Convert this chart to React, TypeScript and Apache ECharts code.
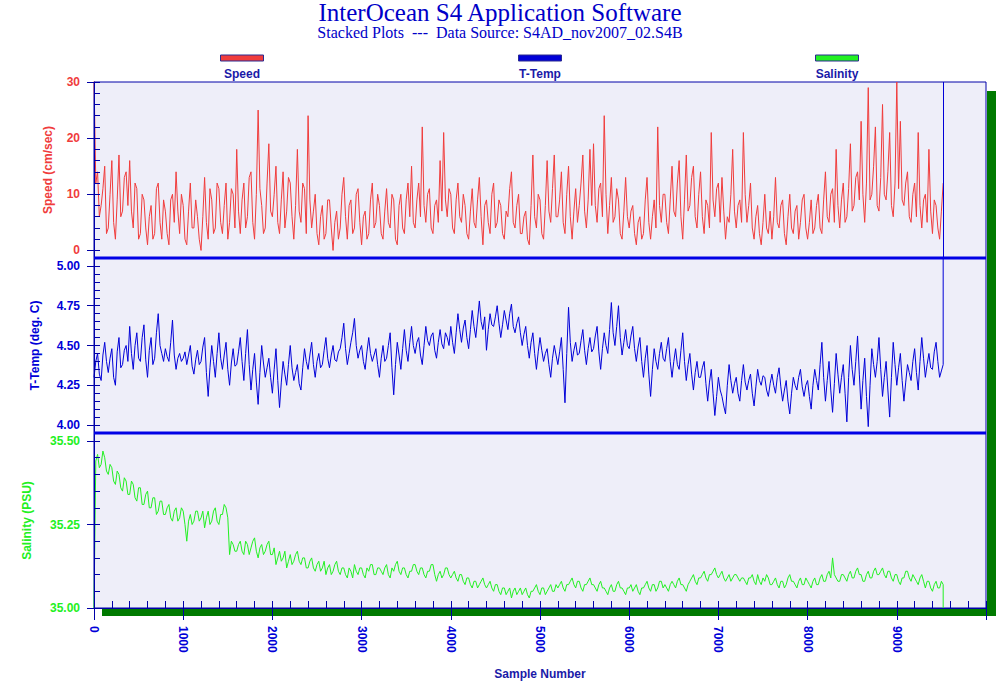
import React, { useEffect, useRef } from "react";
import * as echarts from "echarts";

// ---- data (one value every 20 samples) ----
const sampleStep = 20;

const speed = [
  31, 12, 14, 6, 8, 11, 15, 3, 4, 10, 16, 5, 2, 9, 17, 6, 7, 13, 14, 8,
  16, 7, 4, 12, 11, 2, 3, 10, 9, 4, 1, 6, 8, 2, 3, 11, 12, 5, 2, 9,
  7, 3, 1, 9, 10, 5, 14, 7, 3, 10, 8, 2, 1, 7, 12, 4, 4, 9, 6, 2,
  0, 6, 13, 5, 2, 11, 9, 3, 4, 12, 11, 5, 3, 8, 12, 2, 5, 11, 10, 4,
  18, 7, 3, 9, 12, 4, 6, 13, 14, 5, 2, 10, 25, 11, 8, 3, 4, 12, 19, 7,
  6, 10, 15, 5, 3, 9, 14, 4, 7, 13, 12, 6, 2, 8, 18, 7, 5, 12, 11, 3,
  24, 9, 4, 7, 10, 3, 1, 6, 8, 2, 3, 9, 9, 4, 0, 5, 7, 2, 4, 10,
  13, 6, 2, 8, 9, 3, 4, 10, 11, 5, 1, 6, 7, 2, 3, 9, 12, 4, 5, 10,
  8, 3, 2, 7, 11, 5, 4, 10, 9, 2, 1, 8, 10, 4, 3, 9, 12, 6, 15, 5,
  4, 9, 12, 6, 22, 8, 5, 10, 11, 4, 3, 8, 9, 5, 16, 7, 21, 9, 6, 11,
  10, 4, 3, 9, 12, 6, 5, 10, 8, 3, 2, 7, 11, 5, 4, 9, 13, 6, 1, 8,
  9, 5, 3, 10, 12, 4, 5, 9, 8, 3, 2, 7, 6, 11, 14, 5, 4, 8, 10, 3,
  3, 6, 7, 2, 1, 8, 17, 6, 4, 10, 9, 3, 2, 8, 16, 7, 5, 11, 17, 6,
  6, 9, 14, 5, 3, 10, 15, 6, 2, 7, 11, 5, 8, 12, 17, 7, 4, 9, 18, 8,
  19, 8, 5, 11, 12, 6, 24, 10, 3, 8, 13, 5, 6, 11, 9, 3, 2, 7, 13, 6,
  4, 7, 8, 3, 1, 5, 6, 2, 3, 9, 13, 5, 2, 6, 9, 4, 22, 8, 5, 10,
  10, 5, 3, 9, 15, 7, 6, 12, 16, 6, 2, 9, 17, 7, 8, 13, 15, 6, 4, 10,
  14, 6, 3, 9, 8, 4, 21, 9, 6, 11, 12, 5, 13, 7, 2, 6, 5, 10, 18, 7,
  4, 8, 9, 5, 21, 10, 5, 8, 12, 4, 2, 6, 8, 3, 1, 5, 10, 4, 3, 7,
  2, 6, 13, 5, 4, 8, 9, 3, 1, 6, 10, 4, 3, 7, 8, 2, 5, 9, 10, 4,
  2, 5, 9, 3, 4, 8, 10, 4, 3, 9, 14, 6, 5, 10, 11, 5, 18, 8, 4, 9,
  12, 5, 6, 11, 19, 7, 8, 13, 14, 9, 23, 10, 5, 12, 29, 9, 10, 15, 22, 8,
  7, 13, 26, 10, 9, 14, 21, 8, 6, 12, 30, 11, 23, 9, 8, 12, 14, 6, 5, 10,
  12, 6, 21, 8, 4, 9, 10, 5, 18, 7, 3, 9, 8, 4, 2, 7, 12,
];

const temp = [
  4.30, 4.40, 4.45, 4.32, 4.28, 4.44, 4.52, 4.40, 4.33, 4.42, 4.48, 4.30, 4.25, 4.46, 4.55, 4.36, 4.38, 4.47, 4.50, 4.40,
  4.62, 4.45, 4.35, 4.50, 4.58, 4.42, 4.40, 4.55, 4.63, 4.41, 4.30, 4.47, 4.55, 4.38, 4.42, 4.58, 4.70, 4.50, 4.45, 4.40,
  4.48, 4.43, 4.40, 4.52, 4.66, 4.44, 4.35, 4.42, 4.45, 4.40, 4.42, 4.46, 4.38, 4.44, 4.50, 4.37, 4.32, 4.41, 4.47, 4.38,
  4.40, 4.49, 4.55, 4.33, 4.18, 4.36, 4.50, 4.40, 4.30, 4.45, 4.58, 4.42, 4.35, 4.44, 4.52, 4.35, 4.25, 4.39, 4.48, 4.37,
  4.38, 4.46, 4.55, 4.40, 4.28, 4.45, 4.60, 4.38, 4.22, 4.35, 4.45, 4.27, 4.13, 4.33, 4.50, 4.39, 4.30, 4.36, 4.42, 4.30,
  4.20, 4.35, 4.48, 4.28, 4.11, 4.27, 4.40, 4.32, 4.25, 4.38, 4.50, 4.36, 4.28, 4.33, 4.38, 4.26, 4.22, 4.36, 4.48, 4.40,
  4.35, 4.44, 4.52, 4.38, 4.30, 4.40, 4.45, 4.36, 4.38, 4.47, 4.55, 4.42, 4.36, 4.44, 4.50, 4.41, 4.40, 4.46, 4.48, 4.55,
  4.64, 4.48, 4.38, 4.45, 4.52, 4.58, 4.67, 4.50, 4.42, 4.47, 4.50, 4.40, 4.35, 4.46, 4.55, 4.45, 4.40, 4.44, 4.48, 4.38,
  4.30, 4.42, 4.50, 4.40, 4.42, 4.50, 4.58, 4.36, 4.19, 4.38, 4.52, 4.44, 4.35, 4.48, 4.60, 4.47, 4.40, 4.52, 4.62, 4.50,
  4.45, 4.52, 4.55, 4.44, 4.38, 4.50, 4.62, 4.53, 4.50, 4.56, 4.58, 4.47, 4.42, 4.52, 4.60, 4.51, 4.48, 4.58, 4.55, 4.50,
  4.62, 4.52, 4.45, 4.58, 4.70, 4.60, 4.52, 4.61, 4.66, 4.55, 4.48, 4.60, 4.72, 4.62, 4.55, 4.66, 4.78, 4.65, 4.60, 4.68,
  4.47, 4.60, 4.70, 4.63, 4.62, 4.68, 4.75, 4.64, 4.55, 4.63, 4.72, 4.66, 4.60, 4.70, 4.76, 4.62, 4.58, 4.64, 4.68, 4.58,
  4.50, 4.57, 4.62, 4.50, 4.42, 4.52, 4.58, 4.45, 4.35, 4.46, 4.55, 4.47, 4.40, 4.45, 4.48, 4.38, 4.30, 4.42, 4.50, 4.44,
  4.38, 4.46, 4.55, 4.35, 4.14, 4.45, 4.74, 4.52, 4.40, 4.47, 4.52, 4.44, 4.45, 4.53, 4.60, 4.47, 4.38, 4.48, 4.55, 4.46,
  4.48, 4.56, 4.62, 4.46, 4.35, 4.48, 4.58, 4.50, 4.45, 4.60, 4.77, 4.58, 4.50, 4.62, 4.75, 4.55, 4.44, 4.52, 4.60, 4.50,
  4.48, 4.56, 4.62, 4.48, 4.40, 4.49, 4.55, 4.40, 4.30, 4.42, 4.50, 4.32, 4.18, 4.35, 4.48, 4.40, 4.35, 4.45, 4.52, 4.42,
  4.40, 4.48, 4.55, 4.40, 4.30, 4.40, 4.48, 4.38, 4.35, 4.47, 4.58, 4.40, 4.28, 4.38, 4.45, 4.32, 4.22, 4.33, 4.40, 4.30,
  4.30, 4.36, 4.40, 4.26, 4.15, 4.27, 4.35, 4.20, 4.06, 4.18, 4.30, 4.22, 4.18, 4.12, 4.07, 4.25, 4.38, 4.28, 4.20, 4.26,
  4.30, 4.20, 4.15, 4.28, 4.38, 4.27, 4.22, 4.28, 4.32, 4.20, 4.12, 4.24, 4.35, 4.28, 4.25, 4.31, 4.30, 4.22, 4.18, 4.26,
  4.32, 4.25, 4.20, 4.30, 4.36, 4.24, 4.15, 4.22, 4.28, 4.15, 4.07, 4.20, 4.30, 4.25, 4.22, 4.30, 4.35, 4.24, 4.18, 4.25,
  4.28, 4.18, 4.10, 4.25, 4.35, 4.28, 4.22, 4.38, 4.52, 4.30, 4.15, 4.28, 4.40, 4.22, 4.08, 4.26, 4.45, 4.32, 4.20, 4.30,
  4.38, 4.20, 4.02, 4.30, 4.50, 4.35, 4.25, 4.40, 4.56, 4.32, 4.10, 4.28, 4.42, 4.18, 3.99, 4.25, 4.48, 4.38, 4.30, 4.40,
  4.55, 4.35, 4.18, 4.30, 4.40, 4.22, 4.05, 4.30, 4.52, 4.38, 4.25, 4.36, 4.45, 4.28, 4.15, 4.27, 4.38, 4.33, 4.28, 4.40,
  4.48, 4.33, 4.22, 4.40, 4.55, 4.42, 4.30, 4.38, 4.45, 4.36, 4.35, 4.46, 4.52, 4.40, 4.30, 4.34, 4.38,
];

const salinity = [
  35.00, 35.44, 35.46, 35.42, 35.43, 35.47, 35.45, 35.41, 35.40, 35.43, 35.42, 35.38, 35.37, 35.41, 35.40, 35.36, 35.35, 35.39, 35.38, 35.34,
  35.34, 35.38, 35.37, 35.33, 35.32, 35.36, 35.36, 35.31, 35.31, 35.34, 35.35, 35.30, 35.30, 35.33, 35.33, 35.28, 35.29, 35.32, 35.32, 35.28,
  35.28, 35.30, 35.31, 35.27, 35.26, 35.29, 35.30, 35.26, 35.27, 35.30, 35.29, 35.25, 35.20, 35.26, 35.28, 35.25, 35.26, 35.29, 35.29, 35.26,
  35.27, 35.29, 35.24, 35.27, 35.29, 35.25, 35.26, 35.29, 35.30, 35.26, 35.25, 35.28, 35.28, 35.31, 35.30, 35.27, 35.16, 35.20, 35.19, 35.17,
  35.17, 35.19, 35.20, 35.17, 35.16, 35.20, 35.19, 35.16, 35.18, 35.20, 35.21, 35.17, 35.15, 35.18, 35.19, 35.16, 35.17, 35.19, 35.20, 35.16,
  35.16, 35.18, 35.13, 35.15, 35.17, 35.14, 35.15, 35.17, 35.12, 35.14, 35.16, 35.13, 35.14, 35.16, 35.17, 35.14, 35.13, 35.15, 35.15, 35.12,
  35.12, 35.14, 35.15, 35.12, 35.11, 35.13, 35.14, 35.11, 35.12, 35.14, 35.10, 35.12, 35.13, 35.10, 35.11, 35.13, 35.14, 35.11, 35.10, 35.12,
  35.12, 35.10, 35.09, 35.12, 35.11, 35.09, 35.13, 35.11, 35.10, 35.12, 35.12, 35.10, 35.09, 35.12, 35.11, 35.13, 35.13, 35.10, 35.10, 35.12,
  35.12, 35.11, 35.10, 35.12, 35.13, 35.10, 35.09, 35.12, 35.11, 35.13, 35.14, 35.11, 35.10, 35.12, 35.12, 35.10, 35.09, 35.11, 35.11, 35.13,
  35.13, 35.11, 35.10, 35.12, 35.12, 35.10, 35.09, 35.11, 35.11, 35.13, 35.13, 35.10, 35.08, 35.10, 35.11, 35.09, 35.10, 35.12, 35.12, 35.10,
  35.09, 35.10, 35.11, 35.09, 35.08, 35.10, 35.10, 35.08, 35.07, 35.09, 35.09, 35.07, 35.06, 35.08, 35.08, 35.06, 35.07, 35.08, 35.09, 35.07,
  35.06, 35.07, 35.08, 35.06, 35.05, 35.07, 35.07, 35.05, 35.04, 35.06, 35.06, 35.04, 35.05, 35.06, 35.03, 35.05, 35.06, 35.04, 35.05, 35.06,
  35.04, 35.05, 35.06, 35.04, 35.03, 35.05, 35.05, 35.06, 35.07, 35.05, 35.04, 35.06, 35.06, 35.04, 35.05, 35.06, 35.07, 35.05, 35.05, 35.07,
  35.06, 35.07, 35.08, 35.06, 35.05, 35.07, 35.07, 35.08, 35.09, 35.07, 35.06, 35.08, 35.08, 35.06, 35.05, 35.07, 35.07, 35.08, 35.09, 35.07,
  35.07, 35.06, 35.05, 35.07, 35.08, 35.06, 35.06, 35.05, 35.04, 35.06, 35.07, 35.05, 35.05, 35.07, 35.08, 35.06, 35.06, 35.05, 35.04, 35.06,
  35.06, 35.07, 35.05, 35.06, 35.07, 35.05, 35.04, 35.06, 35.06, 35.07, 35.08, 35.06, 35.05, 35.07, 35.07, 35.05, 35.06, 35.08, 35.08, 35.06,
  35.07, 35.06, 35.05, 35.07, 35.08, 35.07, 35.06, 35.08, 35.09, 35.07, 35.07, 35.06, 35.05, 35.07, 35.08, 35.09, 35.10, 35.08, 35.07, 35.09,
  35.09, 35.10, 35.11, 35.09, 35.08, 35.10, 35.10, 35.11, 35.12, 35.10, 35.09, 35.10, 35.11, 35.09, 35.08, 35.09, 35.10, 35.08, 35.09, 35.10,
  35.10, 35.09, 35.08, 35.09, 35.09, 35.08, 35.07, 35.09, 35.09, 35.10, 35.08, 35.07, 35.10, 35.08, 35.07, 35.09, 35.08, 35.10, 35.09, 35.07,
  35.07, 35.08, 35.09, 35.07, 35.06, 35.08, 35.08, 35.06, 35.07, 35.09, 35.10, 35.08, 35.08, 35.07, 35.06, 35.08, 35.09, 35.07, 35.07, 35.09,
  35.08, 35.07, 35.06, 35.08, 35.09, 35.07, 35.07, 35.09, 35.10, 35.08, 35.08, 35.10, 35.11, 35.09, 35.15, 35.10, 35.09, 35.08, 35.08, 35.10,
  35.10, 35.09, 35.08, 35.10, 35.11, 35.09, 35.09, 35.11, 35.12, 35.10, 35.10, 35.08, 35.08, 35.10, 35.11, 35.09, 35.09, 35.11, 35.12, 35.10,
  35.10, 35.11, 35.12, 35.10, 35.09, 35.11, 35.11, 35.09, 35.08, 35.10, 35.10, 35.08, 35.07, 35.09, 35.09, 35.11, 35.11, 35.09, 35.08, 35.10,
  35.09, 35.08, 35.07, 35.09, 35.10, 35.08, 35.06, 35.08, 35.08, 35.06, 35.05, 35.07, 35.08, 35.06, 35.06, 35.08, 35.07,
];

// values at the very end of the record (drawn vertically at the last sample)
const tempTail = 6.0;
const salinityTail = 34.9;

const speedLabels = [0, 10, 20, 30];
const tempLabels = [4.0, 4.25, 4.5, 4.75, 5.0];
const salinityLabels = [35.0, 35.25, 35.5];
const sampleLabels = [0, 1000, 2000, 3000, 4000, 5000, 6000, 7000, 8000, 9000];

const titleText = "InterOcean S4 Application Software";
const subtitleText = "Stacked Plots  ---  Data Source: S4AD_nov2007_02.S4B";
const legendNames = ["Speed", "T-Temp", "Salinity"];

// ---- styles ----
const RED = "#F03C3C";
const BLUE = "#0000D8";
const GREEN = "#22F022";
const AXIS = "#0000A8";
const TEXTBLUE = "#1A1AA8";
const BG = "#EEEEF9";
const SHADOW = "#007A00";
const FONT = "'Liberation Sans', Arial, sans-serif";
const SERIF = "'Liberation Serif', 'Times New Roman', serif";

const L = 94;
const W = 892;
const P0 = 82;
const P1 = 258;
const P2 = 433;
const P3 = 608;

function range(a: number, b: number, s: number): number[] {
  const out: number[] = [];
  for (let v = a; v <= b + s * 1e-6; v += s) out.push(Math.round(v * 1000) / 1000);
  return out;
}

function pairs(vals: number[], tail?: number): number[][] {
  const out = vals.map((v, i) => [i * sampleStep, v]);
  if (tail !== undefined) out.push([(vals.length - 1) * sampleStep, tail]);
  return out;
}

function yAxes(grid: number, min: number, max: number, labels: number[], minor: number[], color: string, name: string, gap: number, digits: number) {
  return [
    {
      type: "value",
      gridIndex: grid,
      position: "left",
      min,
      max,
      name,
      nameLocation: "middle",
      nameGap: gap,
      nameRotate: 90,
      nameTextStyle: { color, fontFamily: FONT, fontWeight: "bold", fontSize: 12 },
      axisLine: { show: true, onZero: false, lineStyle: { color: AXIS, width: 1 } },
      axisTick: { show: true, inside: true, length: 6, customValues: minor, lineStyle: { color: AXIS, width: 1 } },
      axisLabel: {
        show: true,
        customValues: labels,
        margin: 14,
        color,
        fontFamily: FONT,
        fontWeight: "bold",
        fontSize: 12,
        formatter: (v: number) => v.toFixed(digits),
      },
      splitLine: { show: false },
      z: 5,
    },
    {
      type: "value",
      gridIndex: grid,
      position: "left",
      min,
      max,
      axisLine: { show: false, onZero: false },
      axisTick: { show: true, inside: false, length: 7, customValues: labels, lineStyle: { color: AXIS, width: 1 } },
      axisLabel: { show: false },
      splitLine: { show: false },
      z: 5,
    },
  ];
}

const lastSample = (speed.length - 1) * sampleStep;

function buildOption() {
  const grids = [
    { left: L, top: P0, width: W, height: P1 - P0 },
    { left: L, top: P1, width: W, height: P2 - P1 },
    { left: L, top: P2, width: W, height: P3 - P2 },
  ].map((g) => ({ ...g, show: true, backgroundColor: BG, borderColor: AXIS, borderWidth: 1 }));

  const hiddenX = (gi: number) => ({ type: "value", gridIndex: gi, min: 0, max: 10000, show: false });

  const xAxis = [
    hiddenX(0),
    hiddenX(1),
    {
      type: "value",
      gridIndex: 2,
      min: 0,
      max: 10000,
      position: "bottom",
      name: "Sample Number",
      nameLocation: "middle",
      nameGap: 60,
      nameTextStyle: { color: TEXTBLUE, fontFamily: FONT, fontWeight: "bold", fontSize: 12 },
      axisLine: { show: true, onZero: false, lineStyle: { color: AXIS } },
      axisTick: { show: true, inside: false, length: 12, customValues: range(0, 10000, 1000), lineStyle: { color: AXIS } },
      axisLabel: {
        show: true,
        customValues: sampleLabels,
        rotate: -90,
        margin: 18,
        color: BLUE,
        fontFamily: FONT,
        fontWeight: "bold",
        fontSize: 12,
        formatter: (v: number) => String(v),
      },
      splitLine: { show: false },
      z: 5,
    },
    {
      type: "value",
      gridIndex: 2,
      min: 0,
      max: 10000,
      position: "bottom",
      axisLine: { show: true, onZero: false, lineStyle: { color: AXIS } },
      axisTick: { show: true, inside: true, length: 7, customValues: range(0, 10000, 200), lineStyle: { color: AXIS } },
      axisLabel: { show: false },
      splitLine: { show: false },
      z: 5,
    },
  ];

  const yAxis = [
    ...yAxes(0, -1.35, 30, speedLabels, range(0, 30, 2), RED, "Speed (cm/sec)", 40, 0),
    ...yAxes(1, 3.95, 5.05, tempLabels, range(4.0, 5.0, 0.05), BLUE, "T-Temp (deg. C)", 53, 2),
    ...yAxes(2, 35.0, 35.524, salinityLabels, range(35.0, 35.5, 0.05), GREEN, "Salinity (PSU)", 61, 2),
  ];

  const series = [
    {
      type: "line",
      name: legendNames[0],
      xAxisIndex: 0,
      yAxisIndex: 0,
      data: pairs(speed),
      showSymbol: false,
      symbol: "none",
      lineStyle: { color: RED, width: 1 },
      itemStyle: { color: RED },
      markLine: {
        silent: true,
        symbol: ["none", "none"],
        label: { show: false },
        lineStyle: { color: BLUE, width: 1, type: "solid" },
        data: [{ xAxis: lastSample }],
      },
    },
    {
      type: "line",
      name: legendNames[1],
      xAxisIndex: 1,
      yAxisIndex: 2,
      data: pairs(temp, tempTail),
      showSymbol: false,
      symbol: "none",
      lineStyle: { color: BLUE, width: 1 },
      itemStyle: { color: BLUE },
    },
    {
      type: "line",
      name: legendNames[2],
      xAxisIndex: 2,
      yAxisIndex: 4,
      data: pairs(salinity, salinityTail),
      showSymbol: false,
      symbol: "none",
      lineStyle: { color: GREEN, width: 1 },
      itemStyle: { color: GREEN },
    },
  ];

  const legendX = [242, 540, 837];
  const legendColors = [RED, BLUE, GREEN];
  const legendGraphics: any[] = [];
  legendNames.forEach((n, i) => {
    legendGraphics.push({
      type: "rect",
      shape: { x: legendX[i] - 21.5, y: 55, width: 43, height: 6 },
      style: { fill: legendColors[i], stroke: "#2A2A90", lineWidth: 1 },
    });
    legendGraphics.push({
      type: "text",
      x: legendX[i],
      y: 74,
      style: {
        text: n,
        fill: TEXTBLUE,
        font: `bold 12px ${FONT}`,
        textAlign: "center",
        textVerticalAlign: "middle",
      },
    });
  });

  return {
    animation: false,
    backgroundColor: "#FFFFFF",
    title: [
      {
        text: titleText,
        left: "center",
        top: 0,
        padding: 0,
        textStyle: { color: "#0000C8", fontFamily: SERIF, fontWeight: "normal", fontSize: 25, lineHeight: 24 },
      },
      {
        text: subtitleText,
        left: "center",
        top: 25,
        padding: 0,
        textStyle: { color: "#0000C8", fontFamily: SERIF, fontWeight: "normal", fontSize: 16, lineHeight: 15 },
      },
    ],
    grid: grids,
    xAxis,
    yAxis,
    series,
    graphic: [
      { type: "rect", z: -1, shape: { x: 987, y: 91, width: 9, height: 525 }, style: { fill: SHADOW } },
      { type: "rect", z: -1, shape: { x: 102, y: 609, width: 894, height: 7 }, style: { fill: SHADOW } },
      { type: "rect", z: 50, shape: { x: L, y: P1 - 1.5, width: W, height: 3 }, style: { fill: "#0000E6" } },
      { type: "rect", z: 50, shape: { x: L, y: P2 - 1.5, width: W, height: 3 }, style: { fill: "#0000E6" } },
      ...legendGraphics,
    ],
  };
}

export default function App() {
  const ref = useRef<HTMLDivElement>(null);
  useEffect(() => {
    if (!ref.current) return;
    const chart = echarts.init(ref.current, null, { renderer: "svg" });
    chart.setOption(buildOption() as any);
    return () => chart.dispose();
  }, []);
  return (
    <div
      ref={ref}
      style={{ position: "absolute", left: 0, top: 0, width: 1000, height: 688, background: "#fff" }}
    />
  );
}
